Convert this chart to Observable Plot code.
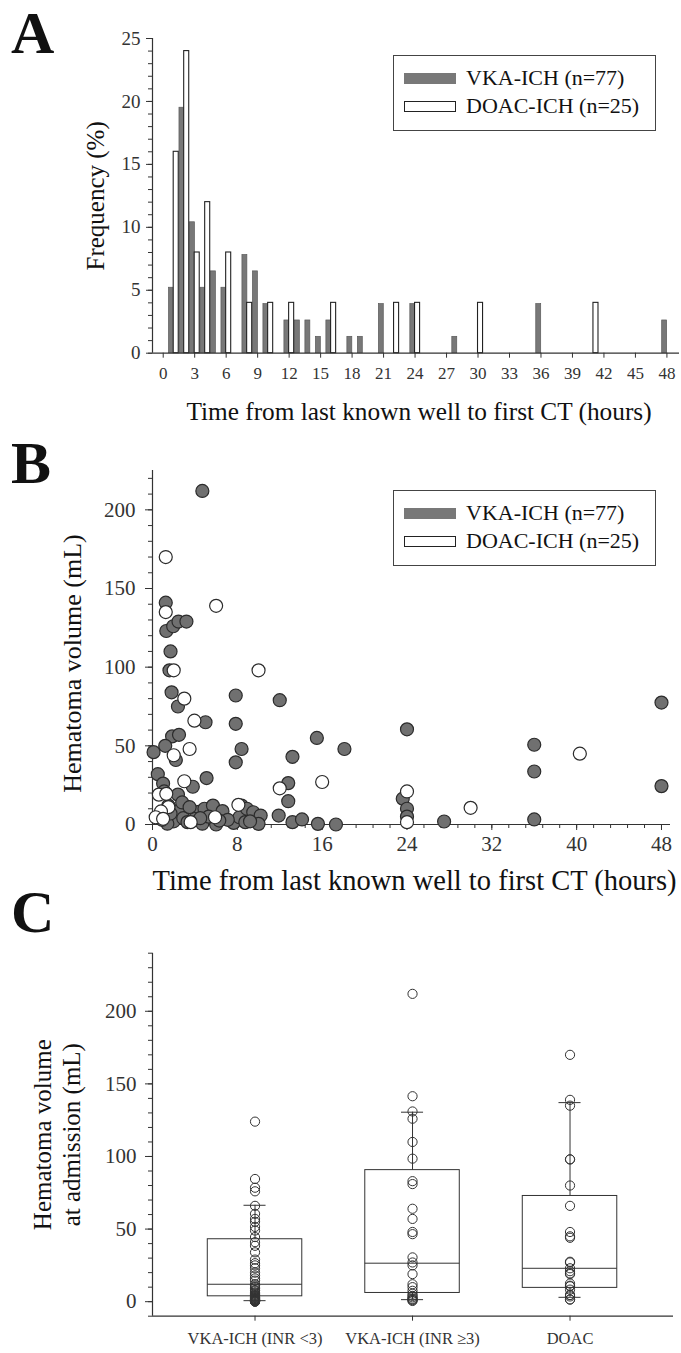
<!DOCTYPE html>
<html><head><meta charset="utf-8">
<script src="https://cdn.jsdelivr.net/npm/d3@7"></script>
<script src="https://cdn.jsdelivr.net/npm/@observablehq/plot@0.6"></script>
<style>
body{margin:0;background:#fff;}
#fig{position:relative;width:681px;height:1353px;overflow:hidden;font-family:"Liberation Serif","Times New Roman",serif;color:#111;}
.panel{position:absolute;left:0;}
.letter{position:absolute;left:11px;font-weight:bold;font-size:60px;line-height:1.107;}
.legend{position:absolute;border:1px solid #444;background:#fff;box-sizing:border-box;}
.sw{position:absolute;box-sizing:border-box;}
.lt{position:absolute;font-size:22px;line-height:26px;white-space:nowrap;}
</style></head>
<body><div id="fig"></div>
<script>
// ---------- Panel A: histogram (% per hour bin) ----------
const aVkaHours = [1,2,3,4,5,6,8,9,10,12,13,14,15,16,18,19,21,24,28,36,48];
const aVkaPct   = [5.2,19.5,10.4,5.2,6.5,5.2,7.8,6.5,3.9,2.6,2.6,2.6,1.3,2.6,1.3,1.3,3.9,3.9,1.3,3.9,2.6];
const aDoacHours = [1,2,3,4,6,8,10,12,16,22,24,30,41];
const aDoacPct   = [16,24,8,12,8,4,4,4,4,4,4,4,4];
const aXTicks = [0,3,6,9,12,15,18,21,24,27,30,33,36,39,42,45,48];
const aYTicks = [0,5,10,15,20,25];
const aXLabel = "Time from last known well to first CT (hours)";
const aYLabel = "Frequency (%)";

// ---------- Panel B: scatter ----------
const bVkaTime = [4.7,1.25,1.3,1.95,2.45,3.2,1.7,1.6,1.8,2.4,5.0,7.85,7.85,8.4,7.85,5.1,1.85,2.5,1.2,0.1,2.2,0.5,1.0,2.4,3.8,2.5,4.35,4.9,5.7,2.0,1.4,4.7,6.0,7.65,8.4,8.2,8.9,9.5,10.2,10.0,8.75,11.9,4.0,12.0,15.5,13.2,18.1,24.0,12.8,12.8,13.2,14.1,15.6,17.3,23.6,24.0,24.0,27.5,36.0,36.0,36.0,48.0,48.0,1.5,2.9,3.3,2.8,0.9,5.3,6.6,7.1,3.5,1.1,9.2,1.7,4.5,6.3];
const bVkaVol  = [212,141,123,126,129,129,110,98,84,75,65,82,64,48,39.5,29.5,56,57,50,46,41,32,26,19,24,9,8,10,12,2,0.5,0.5,0,1,12,4.6,10,7.8,5.7,0.4,1.5,5.7,3.6,79,55,43,48,60.5,26.3,14.8,1.5,3.2,0.4,0,16.4,10,5,1.9,50.7,33.7,3.2,77.5,24.4,12,4,1.5,14,3,5,8.5,3,11,21,2,7,4,2.5];
const bDoacTime = [1.25,6.0,1.25,2.0,10.0,3.0,3.95,3.5,2.0,12.0,16.0,24.0,24.0,30.0,40.3,3.0,0.6,1.3,1.5,0.8,0.3,1.0,3.6,5.9,8.1];
const bDoacVol  = [170,139,135,98,98,80,66,48,44,23,27,21,1.5,10.6,45,27.5,19,19.5,11,8.3,4.6,3.6,1.5,4.6,12.5];
const bXTicks = [0,8,16,24,32,40,48];
const bYTicks = [0,50,100,150,200];
const bXLabel = "Time from last known well to first CT (hours)";
const bYLabel = "Hematoma volume (mL)";

// ---------- Panel C: box plots ----------
const cGroups = ["VKA-ICH (INR <3)","VKA-ICH (INR \u22653)","DOAC"];
const cVkaLow  = [124,84.5,78.5,76,66,60.5,57,55,51.5,49,44.5,41,38.5,34,29,26.5,25,23,20,18,16,14.5,12,11,10,9,8,7.5,6.5,5.5,5,4.5,4,3.5,3,3,2.5,2,2,1.5,1.5,1,1,0.5,0.5,0.5,0,0,0.2,0.8,1.2];
const cVkaHigh = [212,141.5,131,126,110,98.5,83,81,64,57,48,46.5,30.5,27,25,19,12,10,7.5,5.5,4,3,2,1.5,1,0.5];
const cDoac = bDoacVol;
const cQ1  = [3.7,6.0,9.5];
const cMed = [12.0,26.5,23.0];
const cQ3  = [43.0,90.6,72.8];
const cLo  = [0.7,1.4,3.0];
const cHi  = [66.4,130.5,137.1];
const cYTicks = [0,50,100,150,200];
const cYLabel = "Hematoma volume\nat admission (mL)";

const legendLabels = ["VKA-ICH (n=77)","DOAC-ICH (n=25)"];

const FONT = '"Liberation Serif","Times New Roman",serif';
const AX = "#333";
const GRAY = "#787878";
const fig = document.getElementById("fig");
function place(node, top){ const d=document.createElement("div"); d.className="panel"; d.style.top=top+"px"; d.appendChild(node); fig.appendChild(d); }
const baseStyle = {fontFamily:FONT, fontSize:"17px", color:AX, background:"transparent", overflow:"visible"};

// ===== A =====
const aVka = aVkaHours.map((h,i)=>({h, v:aVkaPct[i]}));
const aDoac = aDoacHours.map((h,i)=>({h, v:aDoacPct[i]}));
const aXmin = -1.02;
const plotA = Plot.plot({
  width:681, height:430, marginTop:38, marginBottom:77.3, marginLeft:152, marginRight:2,
  style:baseStyle,
  x:{domain:[aXmin,49.2], axis:null},
  y:{domain:[0,25], axis:null},
  marks:[
    Plot.rect(aVka,{x1:d=>d.h-0.45,x2:d=>d.h+0.02,y1:0,y2:"v",fill:GRAY,stroke:"#5a5a5a",strokeWidth:0.7}),
    Plot.rect(aDoac,{x1:d=>d.h,x2:d=>d.h+0.48,y1:0,y2:"v",fill:"#fff",stroke:"#222",strokeWidth:1.1}),
    Plot.ruleY([0],{stroke:AX,strokeWidth:1.2}),
    Plot.ruleX([aXmin],{stroke:AX,strokeWidth:1.2}),
    Plot.axisY({ticks:d3.range(0,26,1), tickSize:4, tickFormat:()=>"", label:null}),
    Plot.axisY({ticks:aYTicks, tickSize:6, tickPadding:6, fontSize:19, label:null}),
    Plot.axisX({ticks:aXTicks, tickSize:5, tickPadding:9, fontSize:17, label:null}),
    Plot.text([aXLabel],{frameAnchor:"bottom", textAnchor:"middle", lineAnchor:"middle", dy:59, dx:3, fontSize:25.3, fill:"#111"}),
    Plot.text([aYLabel],{frameAnchor:"left", textAnchor:"middle", lineAnchor:"middle", rotate:-90, dx:-57, fontSize:25, fill:"#111"})
  ]
});
place(plotA, 0);

// ===== B =====
const bVka = bVkaTime.map((h,i)=>({h, v:bVkaVol[i]}));
const bDoac = bDoacTime.map((h,i)=>({h, v:bDoacVol[i]}));
const plotB = Plot.plot({
  width:681, height:470, marginTop:40, marginBottom:76, marginLeft:152, marginRight:11,
  style:baseStyle,
  x:{domain:[0,48.85], axis:null},
  y:{domain:[0,225], axis:null},
  marks:[
    Plot.ruleY([0],{stroke:AX,strokeWidth:1.2}),
    Plot.ruleX([0],{stroke:AX,strokeWidth:1.2}),
    Plot.axisY({ticks:d3.range(0,221,10), tickSize:4, tickFormat:()=>"", label:null}),
    Plot.axisY({ticks:bYTicks, tickSize:7, tickPadding:10, fontSize:21, label:null}),
    Plot.axisX({ticks:d3.range(0,48.01,1.6), tickSize:4, tickFormat:()=>"", label:null}),
    Plot.axisX({ticks:bXTicks, tickSize:6, tickPadding:6, fontSize:21, label:null}),
    Plot.dot(bVka,{x:"h",y:"v",r:6.5,fill:"#707070",stroke:"#2b2b2b",strokeWidth:1.2}),
    Plot.dot(bDoac,{x:"h",y:"v",r:6.5,fill:"#fff",stroke:"#2b2b2b",strokeWidth:1.2}),
    Plot.text([bXLabel],{frameAnchor:"bottom", textAnchor:"middle", lineAnchor:"middle", dy:56, dx:3, fontSize:28.5, fill:"#111"}),
    Plot.text([bYLabel],{frameAnchor:"left", textAnchor:"middle", lineAnchor:"middle", rotate:-90, dx:-80, dy:16, fontSize:26, fill:"#111"})
  ]
});
place(plotB, 430);

// ===== C =====
const cBoxes = cGroups.map((g,i)=>({i, q1:cQ1[i], med:cMed[i], q3:cQ3[i], lo:cLo[i], hi:cHi[i]}));
const cPts = [
  ...cVkaLow.map(v=>({i:0,v})),
  ...cVkaHigh.map(v=>({i:1,v})),
  ...cDoac.map(v=>({i:2,v}))
];
const bw = 0.3, cw = 0.07;
const plotC = Plot.plot({
  width:681, height:453, marginTop:52.7, marginBottom:37.3, marginLeft:152, marginRight:8,
  style:baseStyle,
  x:{domain:[-0.651,2.657], axis:null},
  y:{domain:[-10,240], axis:null},
  marks:[
    Plot.ruleY([-10],{stroke:AX,strokeWidth:1.2}),
    Plot.ruleX([-0.651],{stroke:AX,strokeWidth:1.2}),
    Plot.axisY({ticks:d3.range(-10,241,10), tickSize:4, tickFormat:()=>"", label:null}),
    Plot.axisY({ticks:cYTicks, tickSize:7, tickPadding:9, fontSize:21, label:null}),
    Plot.axisX({ticks:[0,1,2], tickFormat:i=>cGroups[i], tickSize:5, tickPadding:11, fontSize:16.5, label:null}),
    Plot.ruleX(cBoxes,{x:"i",y1:"q3",y2:"hi",stroke:AX,strokeWidth:1}),
    Plot.ruleX(cBoxes,{x:"i",y1:"lo",y2:"q1",stroke:AX,strokeWidth:1}),
    Plot.ruleY(cBoxes,{y:"hi",x1:d=>d.i-cw,x2:d=>d.i+cw,stroke:AX,strokeWidth:1}),
    Plot.ruleY(cBoxes,{y:"lo",x1:d=>d.i-cw,x2:d=>d.i+cw,stroke:AX,strokeWidth:1}),
    Plot.rect(cBoxes,{x1:d=>d.i-bw,x2:d=>d.i+bw,y1:"q1",y2:"q3",fill:"none",stroke:AX,strokeWidth:1}),
    Plot.ruleY(cBoxes,{y:"med",x1:d=>d.i-bw,x2:d=>d.i+bw,stroke:AX,strokeWidth:1}),
    Plot.dot(cPts,{x:"i",y:"v",r:4.6,fill:"none",stroke:"#333",strokeWidth:1}),
    Plot.text([cYLabel],{frameAnchor:"left", textAnchor:"middle", lineAnchor:"middle", rotate:-90, dx:-96, fontSize:25, lineHeight:1.15, fill:"#111"})
  ]
});
place(plotC, 900);

// ===== Letters =====
[["A",0],["B",430],["C",879]].forEach(([t,top])=>{
  const d=document.createElement("div"); d.className="letter"; d.style.top=top+"px"; d.textContent=t; fig.appendChild(d);
});

// ===== Legends =====
function legend(top){
  const box=document.createElement("div"); box.className="legend";
  Object.assign(box.style,{left:"393px",top:top+"px",width:"263px",height:"76px"});
  fig.appendChild(box);
  const s1=document.createElement("div"); s1.className="sw";
  Object.assign(s1.style,{left:"404px",top:(top+18)+"px",width:"52px",height:"11px",background:GRAY});
  const s2=document.createElement("div"); s2.className="sw";
  Object.assign(s2.style,{left:"404px",top:(top+46)+"px",width:"52px",height:"11px",background:"#fff",border:"1.2px solid #222"});
  fig.appendChild(s1); fig.appendChild(s2);
  legendLabels.forEach((t,k)=>{
    const l=document.createElement("div"); l.className="lt"; l.textContent=t;
    Object.assign(l.style,{left:"466px",top:(top+10+k*28)+"px"});
    fig.appendChild(l);
  });
}
legend(55);
legend(490);
</script>
</body></html>
